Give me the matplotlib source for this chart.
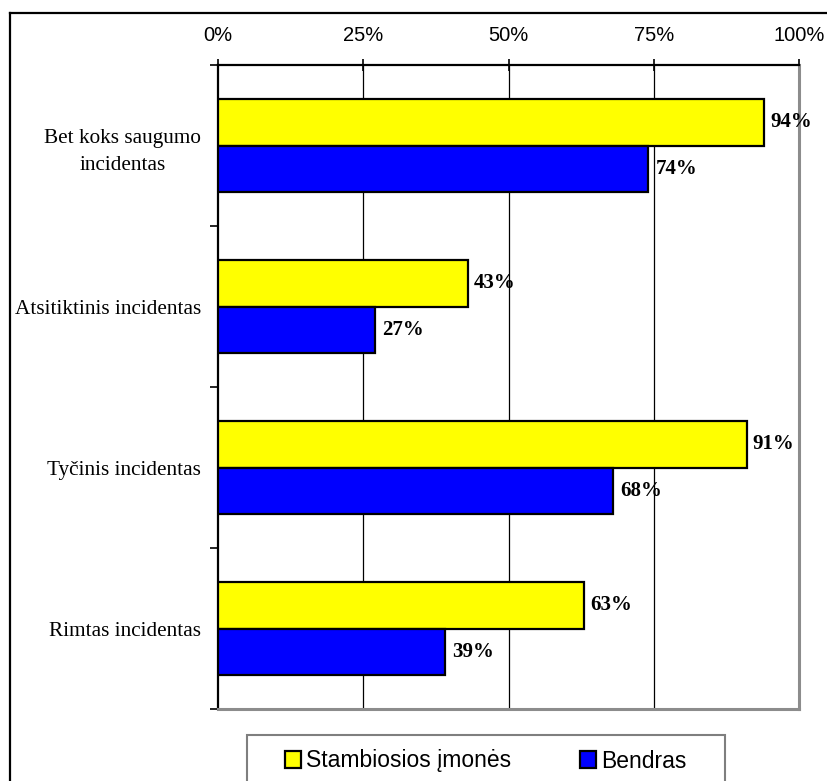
import matplotlib
matplotlib.use("Agg")
import matplotlib.pyplot as plt
from matplotlib.patches import Patch, Rectangle
from matplotlib.lines import Line2D
import numpy as np

categories = ["Bet koks saugumo\nincidentas", "Atsitiktinis incidentas",
              "Tyčinis incidentas", "Rimtas incidentas"]
large_firms = [94, 43, 91, 63]
overall = [74, 27, 68, 39]
series_names = ["Stambiosios įmonės", "Bendras"]
x_ticks = [0, 25, 50, 75, 100]
x_tick_labels = ["0%", "25%", "50%", "75%", "100%"]

serif = "Liberation Serif"
sans = "Liberation Sans"
W, H = 828, 781

fig = plt.figure(figsize=(W / 100, H / 100), dpi=100)
ax = fig.add_axes([218 / W, 1 - 709 / H, (799 - 218) / W, (709 - 65) / H])

centers = np.arange(len(categories)) + 0.5
h = 0.286
ax.barh(centers - h / 2, large_firms, height=h, color="#FFFF00",
        edgecolor="black", linewidth=1.6, zorder=3)
ax.barh(centers + h / 2, overall, height=h, color="#0000FF",
        edgecolor="black", linewidth=1.6, zorder=3)

for c, v in zip(centers - h / 2, large_firms):
    ax.text(v + 1.0, c, f"{v}%", va="center", ha="left", fontfamily=serif,
            fontweight="bold", fontsize=15, zorder=4)
for c, v in zip(centers + h / 2, overall):
    ax.text(v + 1.3, c, f"{v}%", va="center", ha="left", fontfamily=serif,
            fontweight="bold", fontsize=15, zorder=4)

ax.set_xlim(0, 100)
ax.set_ylim(len(categories), 0)
ax.xaxis.tick_top()
ax.set_xticks(x_ticks)
ax.set_xticklabels(x_tick_labels, fontfamily=sans, fontsize=14.5)
ax.tick_params(axis="x", direction="inout", length=9, width=1.2, pad=10)

ax.set_yticks(np.arange(len(categories) + 1))
ax.set_yticklabels([])
ax.set_yticks(centers, minor=True)
ax.set_yticklabels(categories, minor=True, fontfamily=serif, fontsize=15.3,
                   multialignment="center", linespacing=1.55)
ax.tick_params(axis="y", which="major", direction="out", length=6, width=1.2)
ax.tick_params(axis="y", which="minor", length=0, pad=12)

for g in x_ticks[1:-1]:
    ax.axvline(g, color="black", linewidth=0.9, zorder=1)

ax.spines["top"].set_color("black")
ax.spines["top"].set_linewidth(1.6)
ax.spines["left"].set_color("black")
ax.spines["left"].set_linewidth(1.6)
ax.spines["right"].set_color("#8c8c8c")
ax.spines["right"].set_linewidth(2.2)
ax.spines["bottom"].set_color("#8c8c8c")
ax.spines["bottom"].set_linewidth(2.2)

# outer frame of the chart area
fig.add_artist(Line2D([10 / W, 10 / W], [1 - 13 / H, -0.1], color="black",
                      linewidth=1.6, transform=fig.transFigure))
fig.add_artist(Line2D([10 / W, 1.1], [1 - 13 / H, 1 - 13 / H], color="black",
                      linewidth=1.6, transform=fig.transFigure))

# legend box and entries
fig.add_artist(Rectangle((247 / W, -0.02), (725 - 247) / W, 0.02 + 1 - 735 / H,
                         facecolor="white", edgecolor="#7f7f7f", linewidth=1.5,
                         transform=fig.transFigure))
handles = [Patch(facecolor="#FFFF00", edgecolor="black", linewidth=1.6),
           Patch(facecolor="#0000FF", edgecolor="black", linewidth=1.6)]
leg = fig.legend(handles, series_names, loc="center left",
                 bbox_to_anchor=(285 / W, 1 - 761 / H), ncol=2,
                 prop={"family": sans, "size": 16.5}, frameon=False,
                 handlelength=0.72, handleheight=0.72, handletextpad=0.2,
                 columnspacing=3.0, borderpad=0, borderaxespad=0)

fig.savefig("out.png", dpi=100)
